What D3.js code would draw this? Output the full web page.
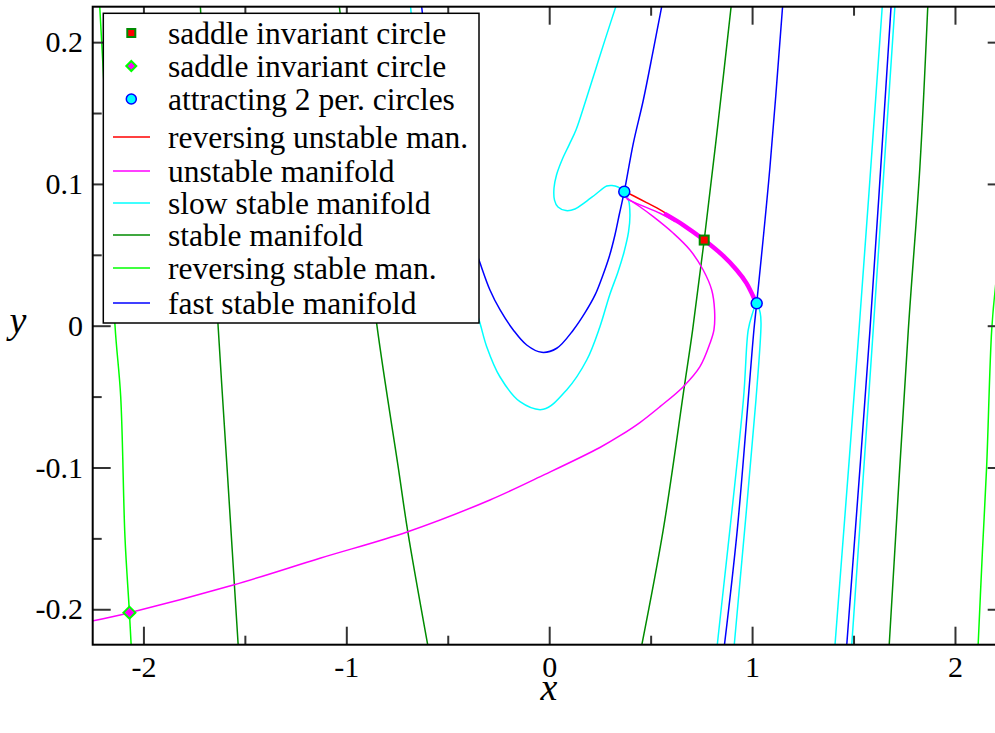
<!DOCTYPE html>
<html>
<head>
<meta charset="utf-8">
<script src="https://cdn.jsdelivr.net/npm/d3@7"></script>
<style>
  html, body { margin: 0; padding: 0; background: #fff; }
  svg { display: block; }
</style>
</head>
<body>
<svg id="chart" width="995" height="733"></svg>
<script>
// ---- axes ----
const xDomain = [-2.25, 2.25];
const yDomain = [-0.225, 0.225];
const xMajorTicks = [-2, -1, 0, 1, 2];
const xMinorTicks = [-1.5, -0.5, 0.5, 1.5];
const xTickLabels = ["-2", "-1", "0", "1", "2"];
const yMajorTicks = [-0.2, -0.1, 0, 0.1, 0.2];
const yMinorTicks = [-0.15, -0.05, 0.05, 0.15];
const yTickLabels = ["-0.2", "-0.1", "0", "0.1", "0.2"];

// ---- invariant objects ----
const saddleSquare = [[0.764, 0.0604]];
const saddleDiamond = [[-2.069, -0.2024]];
const attractingCircles = [[0.370, 0.0945], [1.0227, 0.0158]];

// ---- reversing stable manifold ----
const reversingStableLeft = [[-2.218, 0.232], [-2.176, 0.12], [-2.140, 0.0], [-2.112, -0.05], [-2.091, -0.149], [-2.069, -0.2024], [-2.058, -0.232]];
const reversingStableRight = [[2.112, -0.232], [2.135, -0.16], [2.156, -0.0996], [2.181, -0.003], [2.200, 0.028], [2.23, 0.06], [2.26, 0.09]];

// ---- stable manifold ----
const stable1 = [[-1.722, 0.232], [-1.675, 0.11], [-1.632, 0.0], [-1.587, -0.102], [-1.530, -0.232]];
const stable2 = [[-1.040, 0.232], [-0.948, 0.12], [-0.849, 0.0], [-0.742, -0.1018], [-0.697, -0.1453], [-0.590, -0.232]];
const stable3 = [[0.902, 0.232], [0.832, 0.1427], [0.764, 0.0604], [0.707, -0.003], [0.666, -0.043], [0.562, -0.144], [0.447, -0.232]];
const stable4 = [[1.868, 0.232], [1.827, 0.1118], [1.770, -0.003], [1.673, -0.232]];

// ---- fast stable manifold ----
const fast1 = [[-0.632, 0.2297], [-0.597, 0.1874], [-0.538, 0.1380], [-0.449, 0.0886], [-0.346, 0.0463], [-0.292, 0.0252], [-0.242, 0.0111], [-0.177, -0.0030], [-0.111, -0.0136], [-0.037, -0.0188], [0.037, -0.0159], [0.119, -0.0030], [0.176, 0.0090], [0.226, 0.0217], [0.265, 0.0358], [0.297, 0.0492], [0.324, 0.0640], [0.346, 0.0788], [0.370, 0.0945], [0.4145, 0.1286], [0.464, 0.1592], [0.513, 0.1944], [0.5545, 0.2250], [0.561, 0.2297]];
const fast2 = [[1.154, 0.232], [1.088, 0.1118], [1.0227, 0.0158], [1.009, -0.003], [0.927, -0.144], [0.858, -0.232]];
const fast3 = [[1.688, 0.232], [1.581, -0.003], [1.463, -0.232]];

// ---- slow stable manifold ----
const slowLower = [[0.370, 0.0945], [0.391, 0.0886], [0.398, 0.0781], [0.391, 0.0661], [0.369, 0.0520], [0.339, 0.0379], [0.298, 0.0217], [0.250, -0.0007], [0.185, -0.0242], [0.086, -0.0453], [-0.029, -0.0590], [-0.144, -0.0536], [-0.243, -0.0360], [-0.308, -0.0148], [-0.341, 0.0017], [-0.435, 0.0463], [-0.524, 0.0886], [-0.602, 0.1380], [-0.657, 0.1874], [-0.686, 0.2297]];
const slowUpper = [[0.339, 0.2297], [0.275, 0.2016], [0.228, 0.1804], [0.181, 0.1592], [0.132, 0.1380], [0.0976, 0.1274], [0.0631, 0.1169], [0.036, 0.1063], [0.0237, 0.0971], [0.0261, 0.0886], [0.0434, 0.0837], [0.0828, 0.0812], [0.127, 0.0823], [0.1715, 0.0865], [0.2307, 0.0929], [0.2834, 0.0985], [0.3095, 0.0989], [0.339, 0.0978], [0.370, 0.0945]];
const slowHairpin = [[0.824, -0.232], [0.8285, -0.2252], [0.957, -0.0524], [0.981, -0.003], [0.9995, 0.0075], [1.0227, 0.0158], [1.040, 0.0090], [1.044, 0.0017], [1.019, -0.0524], [0.912, -0.2252], [0.908, -0.232]];
const slowRight1 = [[1.645, 0.232], [1.527, -0.003], [1.405, -0.232]];
const slowRight2 = [[1.707, 0.232], [1.597, -0.003], [1.488, -0.232]];

// ---- unstable manifold ----
const unstableLoop = [[0.3785, 0.0903], [0.447, 0.0839], [0.513, 0.0769], [0.612, 0.0652], [0.694, 0.0534], [0.759, 0.0393], [0.801, 0.0252], [0.815, 0.0111], [0.812, -0.003], [0.7925, -0.0124], [0.743, -0.0289], [0.661, -0.0430], [0.546, -0.0571], [0.447, -0.0683], [0.349, -0.0776], [0.250, -0.0859], [-0.021, -0.1049], [-0.292, -0.1229], [-0.697, -0.1453], [-1.130, -0.1640], [-1.557, -0.1829], [-2.069, -0.2024], [-2.263, -0.2086]];
const unstableShort = [[0.385, 0.0891], [0.46, 0.0845], [0.546, 0.0793], [0.62, 0.0735]];
const unstableBand = [[0.575, 0.0785], [0.661, 0.0710], [0.764, 0.0604], [0.858, 0.0492], [0.924, 0.0393], [0.973, 0.0299], [1.006, 0.0205], [1.0227, 0.0158]];

// ---- reversing unstable manifold ----
const reversingUnstable = [[0.380, 0.0940], [0.407, 0.0922], [0.48, 0.0868], [0.554, 0.0811], [0.661, 0.071], [0.764, 0.0604]];

// ---- legend ----
const legendLabels = ["saddle invariant circle", "saddle invariant circle", "attracting 2 per. circles",
  "reversing unstable man.", "unstable manifold", "slow stable manifold", "stable manifold",
  "reversing stable man.", "fast stable manifold"];
const legendKinds = ["square", "diamond", "circle", "line", "line", "line", "line", "line", "line"];
const legendColors = ["#ff0000", "#ff00ff", "#00ffff", "#ff0000", "#ff00ff", "#00ffff", "#008b00", "#00ff00", "#0000ff"];

const COL = { red: "#ff0000", magenta: "#ff00ff", cyan: "#00ffff", green: "#008b00", lime: "#00ff00", blue: "#0000ff" };

const svg = d3.select("#chart");
svg.append("rect").attr("width", 995).attr("height", 733).attr("fill", "#fff");

const plot = { left: 92.7, top: 6.7, right: 1005.7, bottom: 644.7 };
const x = d3.scaleLinear().domain(xDomain).range([plot.left, plot.right]);
const y = d3.scaleLinear().domain(yDomain).range([plot.bottom, plot.top]);

svg.append("defs").append("clipPath").attr("id", "plotClip")
  .append("rect").attr("x", plot.left).attr("y", plot.top)
  .attr("width", plot.right - plot.left).attr("height", plot.bottom - plot.top);

const line = d3.line().x(d => x(d[0])).y(d => y(d[1])).curve(d3.curveCatmullRom.alpha(0.5));
const g = svg.append("g").attr("clip-path", "url(#plotClip)");

function curve(data, color, width) {
  g.append("path").attr("d", line(data)).attr("fill", "none")
    .attr("stroke", color).attr("stroke-width", width || 1.5)
    .attr("stroke-linejoin", "round").attr("stroke-linecap", "round");
}

// stable manifolds
[stable1, stable2, stable3, stable4].forEach(d => curve(d, COL.green));
[reversingStableLeft, reversingStableRight].forEach(d => curve(d, COL.lime));
// slow and fast stable manifolds
[slowLower, slowUpper, slowHairpin, slowRight1, slowRight2].forEach(d => curve(d, COL.cyan));
[fast1, fast2, fast3].forEach(d => curve(d, COL.blue));
// unstable manifolds
curve(unstableLoop, COL.magenta);
curve(unstableShort, COL.magenta);
curve(reversingUnstable, COL.red);
curve(unstableBand, COL.magenta, 4.5);

// invariant circles
function square(sel, px, py, s) {
  sel.append("rect").attr("x", px - s / 2).attr("y", py - s / 2).attr("width", s).attr("height", s)
    .attr("fill", COL.red).attr("stroke", COL.green).attr("stroke-width", 2);
}
function diamond(sel, px, py, r) {
  sel.append("path").attr("d", `M${px},${py - r}L${px + r},${py}L${px},${py + r}L${px - r},${py}Z`)
    .attr("fill", COL.magenta).attr("stroke", COL.lime).attr("stroke-width", 2);
}
function circle(sel, px, py, r) {
  sel.append("circle").attr("cx", px).attr("cy", py).attr("r", r)
    .attr("fill", COL.cyan).attr("stroke", COL.blue).attr("stroke-width", 1.5);
}
saddleSquare.forEach(d => square(g, x(d[0]), y(d[1]), 9));
saddleDiamond.forEach(d => diamond(g, x(d[0]), y(d[1]), 6));
attractingCircles.forEach(d => circle(g, x(d[0]), y(d[1]), 5.5));

// axes: ticks inward on all four sides
const serif = "'Liberation Serif', 'Times New Roman', Times, serif";
function styleAxis(sel) {
  sel.attr("font-family", serif).attr("font-size", 30);
  sel.select(".domain").remove();
  sel.selectAll(".tick line").attr("stroke", "#333").attr("stroke-width", 2);
  sel.selectAll(".tick text").attr("fill", "#000").style("font-family", serif).style("font-size", "30px");
}
const xFmt = d => xTickLabels[xMajorTicks.indexOf(d)];
const yFmt = d => yTickLabels[yMajorTicks.indexOf(d)];

svg.append("g").attr("transform", `translate(0,${plot.bottom})`)
  .call(d3.axisBottom(x).tickValues(xMajorTicks).tickFormat(xFmt).tickSizeInner(-18).tickSizeOuter(0).tickPadding(11)).call(styleAxis);
svg.append("g").attr("transform", `translate(0,${plot.bottom})`)
  .call(d3.axisBottom(x).tickValues(xMinorTicks).tickFormat("").tickSizeInner(-9).tickSizeOuter(0)).call(styleAxis);
svg.append("g").attr("transform", `translate(0,${plot.top})`)
  .call(d3.axisTop(x).tickValues(xMajorTicks).tickFormat("").tickSizeInner(-18).tickSizeOuter(0)).call(styleAxis);
svg.append("g").attr("transform", `translate(0,${plot.top})`)
  .call(d3.axisTop(x).tickValues(xMinorTicks).tickFormat("").tickSizeInner(-9).tickSizeOuter(0)).call(styleAxis);
svg.append("g").attr("transform", `translate(${plot.left},0)`)
  .call(d3.axisLeft(y).tickValues(yMajorTicks).tickFormat(yFmt).tickSizeInner(-18).tickSizeOuter(0).tickPadding(9.7)).call(styleAxis);
svg.append("g").attr("transform", `translate(${plot.left},0)`)
  .call(d3.axisLeft(y).tickValues(yMinorTicks).tickFormat("").tickSizeInner(-9).tickSizeOuter(0)).call(styleAxis);
svg.append("g").attr("transform", `translate(${plot.right},0)`)
  .call(d3.axisRight(y).tickValues(yMajorTicks).tickFormat("").tickSizeInner(-18).tickSizeOuter(0)).call(styleAxis);
svg.append("g").attr("transform", `translate(${plot.right},0)`)
  .call(d3.axisRight(y).tickValues(yMinorTicks).tickFormat("").tickSizeInner(-9).tickSizeOuter(0)).call(styleAxis);

// frame
svg.append("rect").attr("x", plot.left).attr("y", plot.top)
  .attr("width", plot.right - plot.left).attr("height", plot.bottom - plot.top)
  .attr("fill", "none").attr("stroke", "#000").attr("stroke-width", 2);

// axis titles
svg.append("text").attr("x", 549).attr("y", 700).attr("text-anchor", "middle")
  .style("font-family", serif).style("font-style", "italic").style("font-size", "38px").text("x");
svg.append("text").attr("x", 18).attr("y", 333).attr("text-anchor", "middle")
  .style("font-family", serif).style("font-style", "italic").style("font-size", "38px").text("y");

// legend
const legendRowY = [33, 66, 99, 137, 171, 203, 235, 268, 303];
const lg = svg.append("g");
lg.append("rect").attr("x", 103.3).attr("y", 13.3).attr("width", 375.7).attr("height", 309.7)
  .attr("fill", "#fff").attr("stroke", "#000").attr("stroke-width", 1.5);
legendLabels.forEach((label, i) => {
  const cy = legendRowY[i];
  const kind = legendKinds[i];
  if (kind === "square") square(lg, 131.3, cy, 8);
  else if (kind === "diamond") diamond(lg, 131.3, cy, 5);
  else if (kind === "circle") circle(lg, 131.3, cy, 5);
  else lg.append("line").attr("x1", 113).attr("x2", 150).attr("y1", cy).attr("y2", cy)
    .attr("stroke", legendColors[i]).attr("stroke-width", 1.5);
  lg.append("text").attr("x", 168).attr("y", cy + 10.5)
    .style("font-family", serif).style("font-size", "31.5px").attr("fill", "#000").text(label);
});
</script>
</body>
</html>
